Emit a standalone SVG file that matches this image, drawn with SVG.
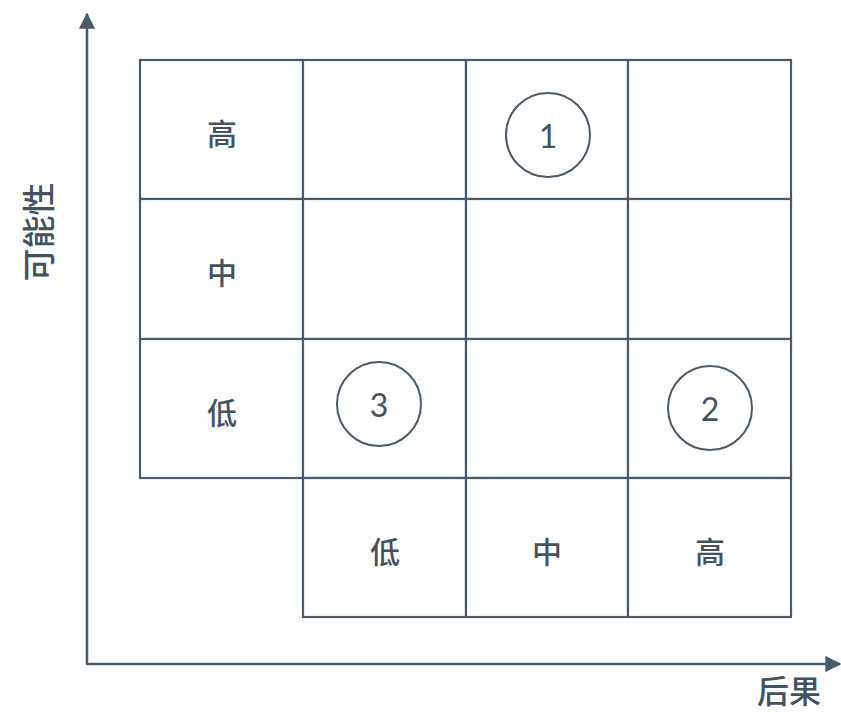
<svg xmlns="http://www.w3.org/2000/svg" width="841" height="713" viewBox="0 0 841 713">
<style>
.cell{fill:#ffffff;stroke:#4a5a66;stroke-width:2.2}
.ax{stroke:#4a5a66;stroke-width:2.5;fill:none}
.t{font-family:"Noto Sans CJK SC","Noto Sans",sans-serif;font-size:30px;font-weight:500;fill:#44525e;text-anchor:middle;dominant-baseline:central}
.n{font-family:Lato,"Noto Sans",sans-serif;font-size:32px;fill:#44525e;text-anchor:middle;dominant-baseline:central}
.c{fill:none;stroke:#4a5a66;stroke-width:2}
</style>
<defs>
<marker id="ah" viewBox="0 0 10 10" refX="9" refY="5" markerWidth="6.5" markerHeight="6.5" orient="auto" markerUnits="strokeWidth"><path d="M0,0 L10,5 L0,10 z" fill="#4a5a66"/></marker>
</defs>
<rect width="841" height="713" fill="#ffffff"/>
<g id="connectors">
<path class="ax" d="M87,664 L87,14" marker-end="url(#ah)"/>
<path class="ax" d="M86,664 L840,664" marker-end="url(#ah)"/>
</g>
<g id="grid">
<rect class="cell" x="140" y="60" width="163" height="139"/>
<rect class="cell" x="303" y="60" width="163" height="139"/>
<rect class="cell" x="466" y="60" width="162" height="139"/>
<rect class="cell" x="628" y="60" width="163" height="139"/>
<rect class="cell" x="140" y="199" width="163" height="140"/>
<rect class="cell" x="303" y="199" width="163" height="140"/>
<rect class="cell" x="466" y="199" width="162" height="140"/>
<rect class="cell" x="628" y="199" width="163" height="140"/>
<rect class="cell" x="140" y="339" width="163" height="139"/>
<rect class="cell" x="303" y="339" width="163" height="139"/>
<rect class="cell" x="466" y="339" width="162" height="139"/>
<rect class="cell" x="628" y="339" width="163" height="139"/>
<rect class="cell" x="303" y="478" width="163" height="139"/>
<rect class="cell" x="466" y="478" width="162" height="139"/>
<rect class="cell" x="628" y="478" width="163" height="139"/>
</g>
<g id="row-labels">
<text class="t" x="222" y="132">高</text>
<text class="t" x="222" y="271">中</text>
<text class="t" x="222" y="411">低</text>
</g>
<g id="col-labels">
<text class="t" x="385" y="550">低</text>
<text class="t" x="547" y="550">中</text>
<text class="t" x="710" y="550">高</text>
</g>
<g id="risk1"><circle class="c" cx="548" cy="135" r="42"/><text class="n" x="548" y="135">1</text></g>
<g id="risk2"><circle class="c" cx="710" cy="408" r="42"/><text class="n" x="710" y="408">2</text></g>
<g id="risk3"><circle class="c" cx="379" cy="404" r="42"/><text class="n" x="379" y="404">3</text></g>
<g id="axis-y-label"><text class="t" x="37" y="232" transform="rotate(-90 37 232)" style="font-size:33px">可能性</text></g>
<g id="axis-x-label"><text class="t" x="789" y="689" style="font-size:32px">后果</text></g>
</svg>
